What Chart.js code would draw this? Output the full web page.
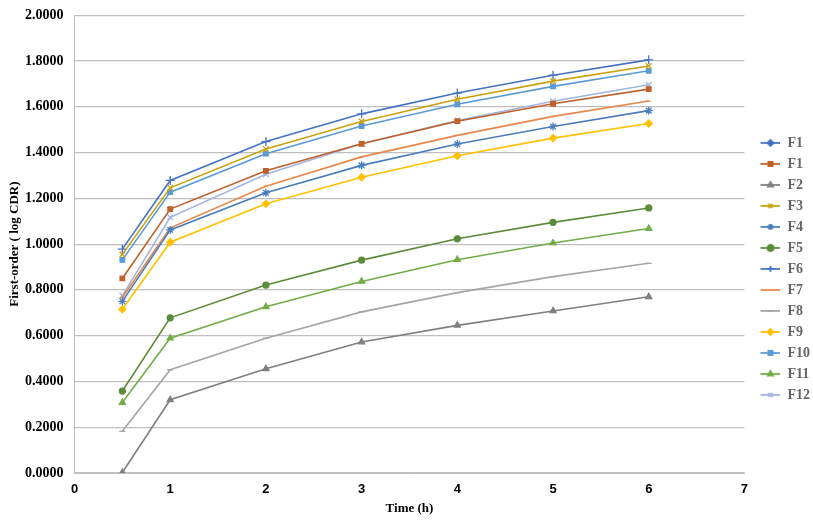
<!DOCTYPE html>
<html>
<head>
<meta charset="utf-8">
<script src="https://cdn.jsdelivr.net/npm/chart.js"></script>
<style>
  html, body { margin: 0; padding: 0; background: #fff; }
  #wrap { width: 813px; height: 522px; }
</style>
</head>
<body>
<div id="wrap"><canvas id="myChart" width="813" height="522"></canvas></div>
<script>
// Data
const times = [0.5, 1, 2, 3, 4, 5, 6];
const seriesNames = ['F1', 'F1', 'F2', 'F3', 'F4', 'F5', 'F6', 'F7', 'F8', 'F9', 'F10', 'F11', 'F12'];
const f1a = [];  // in legend only, no visible points
const f1  = [0.850, 1.153, 1.320, 1.438, 1.537, 1.613, 1.677];
const f2  = [0.002, 0.320, 0.455, 0.572, 0.645, 0.708, 0.770];
const f3  = [0.955, 1.246, 1.415, 1.536, 1.633, 1.712, 1.778];
const f4  = [0.750, 1.062, 1.224, 1.344, 1.437, 1.514, 1.583];
const f5  = [0.358, 0.678, 0.821, 0.930, 1.023, 1.095, 1.158];
const f6  = [0.978, 1.278, 1.448, 1.569, 1.660, 1.738, 1.805];
const f7  = [0.767, 1.071, 1.253, 1.381, 1.475, 1.558, 1.625];
const f8  = [0.182, 0.451, 0.589, 0.704, 0.788, 0.858, 0.916];
const f9  = [0.715, 1.008, 1.176, 1.292, 1.386, 1.463, 1.527];
const f10 = [0.931, 1.227, 1.395, 1.516, 1.611, 1.689, 1.757];
const f11 = [0.308, 0.589, 0.726, 0.837, 0.932, 1.005, 1.068];
const f12 = [0.775, 1.117, 1.305, 1.438, 1.540, 1.624, 1.696];
const values = [f1a, f1, f2, f3, f4, f5, f6, f7, f8, f9, f10, f11, f12];

// Styles
const colors = ['#4472C4', '#C0602A', '#7F7F7F', '#C9A20E', '#4A7EBB', '#5B8C3A', '#4472C4',
                '#E8874A', '#A5A5A5', '#FFC000', '#5B9BD5', '#70AD47', '#A3B5DE'];
const markers = ['rectRot', 'rect', 'triangle', 'crossRot', 'star', 'circle', 'cross',
                 'line', 'line', 'rectRot', 'rect', 'triangle', 'crossRot'];
const radii = [3.5, 3.2, 3.5, 4, 4, 3, 4.5, 2, 3, 3.5, 3.2, 3.5, 4];

const serif = "'Liberation Serif', 'Times New Roman', serif";

// legend swatch: short line with the marker on it, some blank room on the left
function legendIcon(i) {
  const c = document.createElement('canvas');
  c.width = 29; c.height = 10;
  const ctx = c.getContext('2d');
  ctx.strokeStyle = colors[i];
  ctx.fillStyle = colors[i];
  ctx.lineWidth = 1.8;
  ctx.beginPath(); ctx.moveTo(9, 5); ctx.lineTo(29, 5); ctx.stroke();
  if (i !== 7) {
    Chart.helpers.drawPoint(ctx, {pointStyle: markers[i], radius: 3, rotation: 0, borderWidth: 1.3}, 19, 5);
  }
  return c;
}

const datasets = seriesNames.map((name, i) => ({
  label: name,
  data: values[i].map((v, k) => ({x: times[k], y: v})),
  borderColor: colors[i],
  backgroundColor: colors[i],
  borderWidth: 1.6,
  pointStyle: markers[i],
  pointRadius: radii[i],
  pointBorderWidth: 1.3,
  tension: 0
}));

const config = {
  type: 'line',
  data: { datasets: datasets },
  options: {
    responsive: false,
    animation: false,
    layout: { padding: { top: 3, right: -7, left: 4, bottom: 7 } },
    plugins: {
      tooltip: { enabled: false },
      legend: {
        position: 'right',
        title: { display: true, text: ' ', padding: { top: 3, bottom: 0 },
                 font: { family: serif, size: 14 } },
        labels: {
          usePointStyle: true,
          pointStyleWidth: 29,
          boxHeight: 10,
          padding: 7,
          color: '#000',
          font: { family: serif, size: 14, weight: 'bold' },
          generateLabels: chart => chart.data.datasets.map((ds, i) => ({
            text: ds.label,
            pointStyle: legendIcon(i),
            fillStyle: colors[i],
            strokeStyle: colors[i],
            lineWidth: 0,
            hidden: false,
            datasetIndex: i
          }))
        }
      }
    },
    scales: {
      x: {
        type: 'linear',
        min: 0, max: 7,
        ticks: { stepSize: 1, color: '#000', padding: 10,
                 font: { family: "'Liberation Sans Narrow', 'Liberation Sans', sans-serif", size: 13, weight: 'bold', lineHeight: 1 } },
        grid: { display: false, drawTicks: false },
        border: { color: '#BFBFBF' },
        title: { display: true, text: 'Time (h)', color: '#000', padding: { top: -4, bottom: 0 },
                 font: { family: serif, size: 13, weight: 'bold', lineHeight: 1 } }
      },
      y: {
        min: 0, max: 2,
        ticks: { stepSize: 0.2, color: '#000', padding: 11,
                 callback: v => Number(v).toFixed(4),
                 font: { family: serif, size: 14, weight: 'bold', lineHeight: 0.6 } },
        grid: { color: '#BFBFBF', lineWidth: 1.2, drawTicks: false },
        border: { color: '#BFBFBF' },
        title: { display: true, text: 'First-order ( log CDR)', color: '#000', padding: { top: 4.5, bottom: -7.5 },
                 font: { family: serif, size: 13, weight: 'bold', lineHeight: 1 } }
      }
    }
  }
};

const myChart = new Chart(document.getElementById('myChart'), config);
</script>
</body>
</html>
